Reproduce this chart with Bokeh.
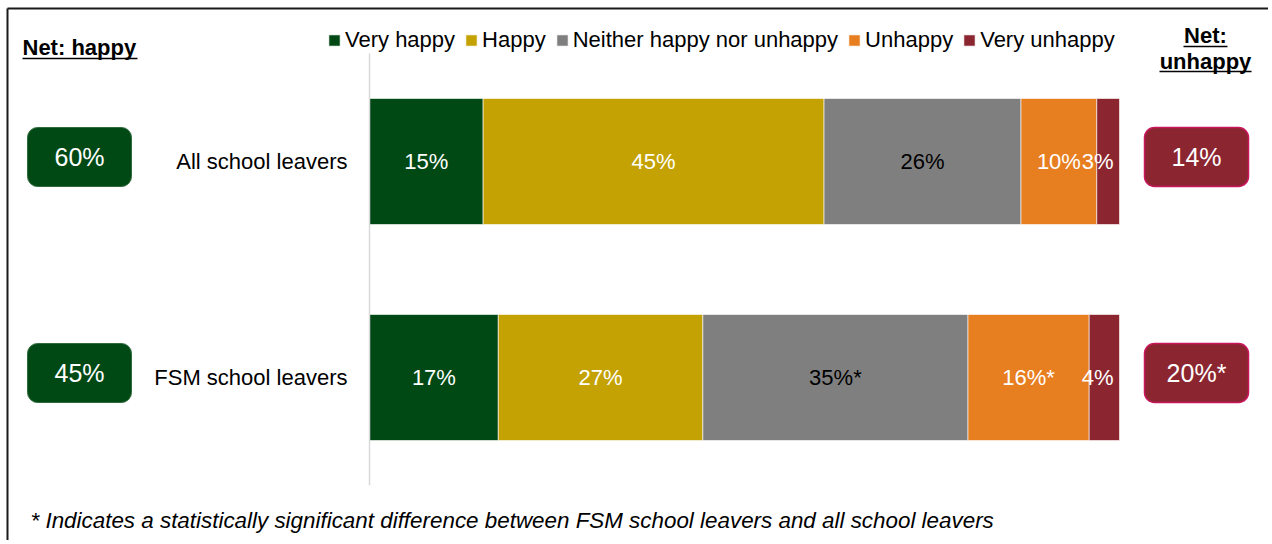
from bokeh.plotting import figure
from bokeh.models import Range1d, ColumnDataSource
from bokeh.embed import file_html
from bokeh.resources import INLINE
from bokeh.core.properties import value

# ---------------- data ----------------
categories = ["All school leavers", "FSM school leavers"]
responses = ["Very happy", "Happy", "Neither happy nor unhappy", "Unhappy", "Very unhappy"]
very_happy = [15, 17]
happy = [45, 27]
neither = [26, 35]
unhappy = [10, 16]
very_unhappy = [3, 4]
# * = statistically significant difference (FSM vs all)
sig_very_happy = [False, False]
sig_happy = [False, False]
sig_neither = [False, True]
sig_unhappy = [False, True]
sig_very_unhappy = [False, False]
net_happy = [60, 45]
net_happy_sig = [False, False]
net_unhappy = [14, 20]
net_unhappy_sig = [False, True]
footnote = "* Indicates a statistically significant difference between FSM school leavers and all school leavers"

# ---------------- style ----------------
colors = ["#004915", "#C4A204", "#7F7F7F", "#E77E20", "#8B2630"]
label_colors = ["white", "white", "black", "white", "white"]
FONT = value("Liberation Sans")
FS = "22px"

W, H = 1268, 540
OFF = 0
BAR_X0, BAR_X1 = 369, 1119
ROW_TOP_PX, ROW_STEP = 161, 216
n = len(categories)


def X(px):
    return (px - BAR_X0) / (BAR_X1 - BAR_X0)


def Y(py):
    return (n - 0.5) + (ROW_TOP_PX - py) / ROW_STEP


p = figure(width=W, height=H, output_backend="svg", toolbar_location=None,
           x_range=Range1d(X(OFF), X(OFF + W)), y_range=Range1d(Y(OFF + H), Y(OFF)),
           x_axis_type=None, y_axis_type=None, min_border=0,
           min_border_left=0, min_border_right=0, min_border_top=0, min_border_bottom=0,
           outline_line_color=None, background_fill_color="white", border_fill_color="white")
p.grid.visible = False

series = [very_happy, happy, neither, unhappy, very_unhappy]
sigs = [sig_very_happy, sig_happy, sig_neither, sig_unhappy, sig_very_unhappy]
ys = [n - i - 0.5 for i in range(n)]
totals = [sum(s[i] for s in series) for i in range(n)]

data = {"y": ys}
for name, s in zip(responses, series):
    data[name] = [s[i] / totals[i] for i in range(n)]
src = ColumnDataSource(data)

BAR_H = 126 / ROW_STEP
p.hbar_stack(responses, y="y", height=BAR_H, color=colors, line_color="white",
             line_width=1, line_alpha=0.6, source=src, legend_label=responses)

# segment labels
cx, cy, ct, cc = [], [], [], []
ex, ey, et, ec = [], [], [], []
for i in range(n):
    left = 0.0
    for k, s in enumerate(series):
        w = s[i] / totals[i]
        txt = f"{s[i]}%" + ("*" if sigs[k][i] else "")
        if k == len(series) - 1:
            ex.append(left + w); ey.append(ys[i]); et.append(txt); ec.append(label_colors[k])
        else:
            cx.append(left + w / 2); cy.append(ys[i]); ct.append(txt); cc.append(label_colors[k])
        left += w
p.text(x=cx, y=cy, text=ct, text_color=cc, text_align="center", text_baseline="middle",
       text_font=FONT, text_font_size=FS)
p.text(x=ex, y=ey, text=et, text_color=ec, text_align="right", text_baseline="middle",
       text_font=FONT, text_font_size=FS, x_offset=-6)

# category labels
p.text(x=[0] * n, y=ys, text=categories, text_align="right", text_baseline="middle",
       text_font=FONT, text_font_size=FS, text_color="black", x_offset=-22)

# category axis line
p.segment(x0=[0], y0=[0], x1=[0], y1=[n], line_color="#D9D9D9", line_width=1.5)

# net boxes
dy = 4.5 / ROW_STEP
box_h = 59 / ROW_STEP
by = [y + dy for y in ys]
p.hbar(y=by, left=X(27), right=X(131), height=box_h, fill_color=colors[0],
       line_color="#2F6B3C", line_width=1, border_radius=10)
p.text(x=[X(79)] * n, y=by, text=[f"{v}%" + ("*" if s else "") for v, s in zip(net_happy, net_happy_sig)],
       text_color="white", text_align="center", text_baseline="middle",
       text_font=FONT, text_font_size="25px")
p.hbar(y=by, left=X(1144), right=X(1248), height=box_h, fill_color=colors[4],
       line_color="#C8175D", line_width=1.5, border_radius=10)
p.text(x=[X(1196)] * n, y=by, text=[f"{v}%" + ("*" if s else "") for v, s in zip(net_unhappy, net_unhappy_sig)],
       text_color="white", text_align="center", text_baseline="middle",
       text_font=FONT, text_font_size="25px")

# headers with underline
p.text(x=[X(22)], y=[Y(47)], text=["Net: happy"], text_align="left", text_baseline="middle",
       text_font=FONT, text_font_size=FS, text_font_style="bold", text_color="black")
p.segment(x0=[X(22)], y0=[Y(58)], x1=[X(137)], y1=[Y(58)], line_color="black", line_width=1.5)
p.text(x=[X(1205)], y=[Y(35)], text=["Net:"], text_align="center", text_baseline="middle",
       text_font=FONT, text_font_size=FS, text_font_style="bold", text_color="black")
p.segment(x0=[X(1183)], y0=[Y(46)], x1=[X(1227)], y1=[Y(46)], line_color="black", line_width=1.5)
p.text(x=[X(1205)], y=[Y(61)], text=["unhappy"], text_align="center", text_baseline="middle",
       text_font=FONT, text_font_size=FS, text_font_style="bold", text_color="black")
p.segment(x0=[X(1159)], y0=[Y(71)], x1=[X(1251)], y1=[Y(71)], line_color="black", line_width=1.5)

# footnote
p.text(x=[X(30)], y=[Y(520)], text=[footnote], text_align="left", text_baseline="middle",
       text_font=FONT, text_font_size="22.4px", text_font_style="italic", text_color="black")

# frame (left & top edges only, the rest runs off the picture)
p.segment(x0=[X(7), X(7)], y0=[Y(8), Y(8)], x1=[X(W + 20), X(7)], y1=[Y(8), Y(H + 20)],
          line_color="#1a1a1a", line_width=2)

# legend
lg = p.legend[0]
lg.orientation = "horizontal"
lg.location = (327 - OFF, H - (40 - OFF) - 12.5)
lg.background_fill_alpha = 0
lg.border_line_color = None
lg.padding = 0
lg.margin = 0
lg.spacing = 9
lg.label_standoff = 4
lg.glyph_width = 14
lg.glyph_height = 14
lg.label_text_font = "Liberation Sans"
lg.label_text_font_size = FS
lg.label_text_color = "black"

open("out.html", "w").write(file_html(p, INLINE))
